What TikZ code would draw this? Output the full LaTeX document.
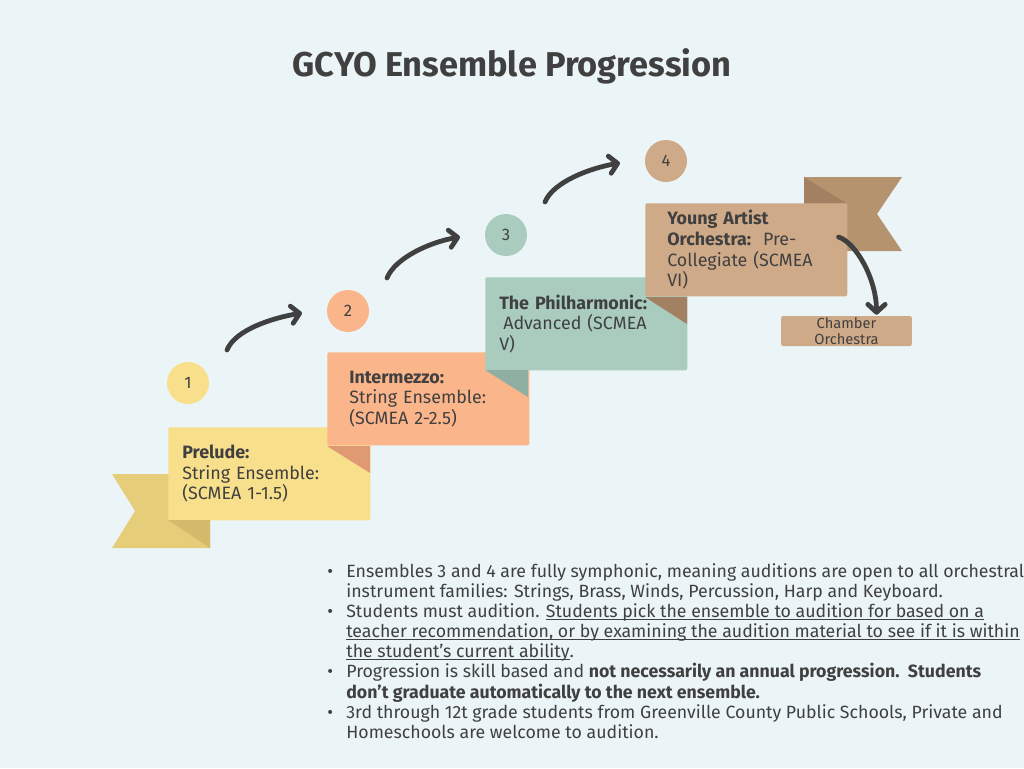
\documentclass[tikz,border=0pt]{standalone}
\usepackage{fontspec}
\setmainfont{Fira Sans}
\usetikzlibrary{arrows.meta,positioning}

\definecolor{bg}{HTML}{EBF5F7}
\definecolor{ink}{HTML}{404040}
\definecolor{preludec}{HTML}{F8DF8B}
\definecolor{preluderib}{HTML}{E6CD7A}
\definecolor{preludefold}{HTML}{D3BB6B}
\definecolor{intermc}{HTML}{FBB58A}
\definecolor{intermfold}{HTML}{DF9A73}
\definecolor{philc}{HTML}{A9CCBF}
\definecolor{philfold}{HTML}{8FAFA3}
\definecolor{yaoc}{HTML}{CFAA88}
\definecolor{yaorib}{HTML}{B5936F}
\definecolor{yaofold}{HTML}{A38062}

\newcommand\undl[1]{\setbox0\hbox{#1}\rlap{\rule[-1.8pt]{\wd0}{0.55pt}}\box0}

\begin{document}
\begin{tikzpicture}[x=0.75pt, y=-0.75pt,
  box/.style = {rectangle, rounded corners=1.5pt, anchor=north west, minimum width=151.5pt, minimum height=69.75pt, text width=130.5pt, inner xsep=10.5pt, align=left, text=ink, font=\fontsize{13.4}{15.5}\selectfont},
  padbox/.style = {box, text width=118.5pt, inner xsep=16.5pt},
  num/.style = {circle, minimum size=31.5pt, inner sep=0pt, text=ink, font=\fontsize{12.5}{14}\selectfont},
  flow/.style = {draw=ink, line width=3.6pt, line cap=round, -{Straight Barb[length=6pt,width=13pt,round]}}]
\fill[bg] (0,0) rectangle (1024,768);
\useasboundingbox (0,0) rectangle (1024,768);

\node[text=ink, font=\bfseries\fontsize{25.8}{30}\selectfont] (title) at (512,66) {GCYO Ensemble Progression};

\fill[preluderib] (112,474) -- (210,474) -- (210,548) -- (112,548) -- (135,511) -- cycle;
\node[box, fill=preludec] (b1) at (168,427) {\textbf{Prelude:}\\String Ensemble:\\(SCMEA 1-1.5)};
\fill[preludefold] (168,520) -- (210,520) -- (210,548) -- cycle;

\node[padbox, fill=intermc] (b2) at (327,352) {\textbf{Intermezzo:}\\String Ensemble:\\(SCMEA 2-2.5)};
\fill[intermfold] (327,446) -- (370,446) -- (370,473) -- cycle;

\node[box, fill=philc] (b3) at (485,277) {\textbf{The Philharmonic:}\\\hspace*{3pt}Advanced (SCMEA\\V)};
\fill[philfold] (485,370) -- (528,370) -- (528,397) -- cycle;

\fill[yaorib] (804,177) -- (902,177) -- (877,214) -- (902,251) -- (804,251) -- cycle;
\fill[yaofold] (804,177) -- (846,203) -- (804,203) -- cycle;
\node[padbox, fill=yaoc] (b4) at (645,203) {\textbf{Young Artist}\\\textbf{Orchestra:}\ \ Pre-\\Collegiate (SCMEA\\VI)};
\fill[yaofold] (645,297) -- (687,297) -- (687,324) -- cycle;

\node[rectangle, rounded corners=1.5pt, fill=yaoc, minimum width=98pt, minimum height=22.5pt, inner sep=0pt, align=center, text=ink, font=\fontsize{11}{12}\selectfont] (chamber) at (846.5,331) {Chamber\\Orchestra};

\node[num, fill=preludec] (c1) at (188,383) {1};
\node[num, fill=intermc] (c2) at (348,311) {2};
\node[num, fill=philc] (c3) at (506,235) {3};
\node[num, fill=yaoc] (c4) at (666,161) {4};

\draw[flow] ([shift={(39,-33)}]c1.center) .. controls +(8,-20) and +(-30,5) .. ([shift={(-46,2)}]c2.center);
\draw[flow] ([shift={(39,-33)}]c2.center) .. controls +(8,-20) and +(-30,5) .. ([shift={(-46,2)}]c3.center);
\draw[flow] ([shift={(39,-33)}]c3.center) .. controls +(8,-20) and +(-30,5) .. ([shift={(-46,2)}]c4.center);
\draw[flow] ([shift={(-9,34)}]b4.north east) .. controls +(18,6) and +(0,-35) .. ([shift={(30,-1)}]chamber.north);

\node[anchor=north west, inner sep=0pt, text=ink, font=\fontsize{13.3}{15}\selectfont] (notes) at (327,563) {%
\begin{tabular}{@{}l@{\hspace{10pt}}l@{}}
•& Ensembles 3 and 4 are fully symphonic, meaning auditions are open to all orchestral\\
 & instrument families: Strings, Brass, Winds, Percussion, Harp and Keyboard.\\
•& Students must audition. \undl{Students pick the ensemble to audition for based on a}\\
 & \undl{teacher recommendation, or by examining the audition material to see if it is within}\\
 & \undl{the student’s current ability}.\\
•& Progression is skill based and \textbf{not necessarily an annual progression.\ \ Students}\\
 & \textbf{don’t graduate automatically to the next ensemble.}\\
•& 3rd through 12t grade students from Greenville County Public Schools, Private and\\
 & Homeschools are welcome to audition.
\end{tabular}};
\end{tikzpicture}
\end{document}
